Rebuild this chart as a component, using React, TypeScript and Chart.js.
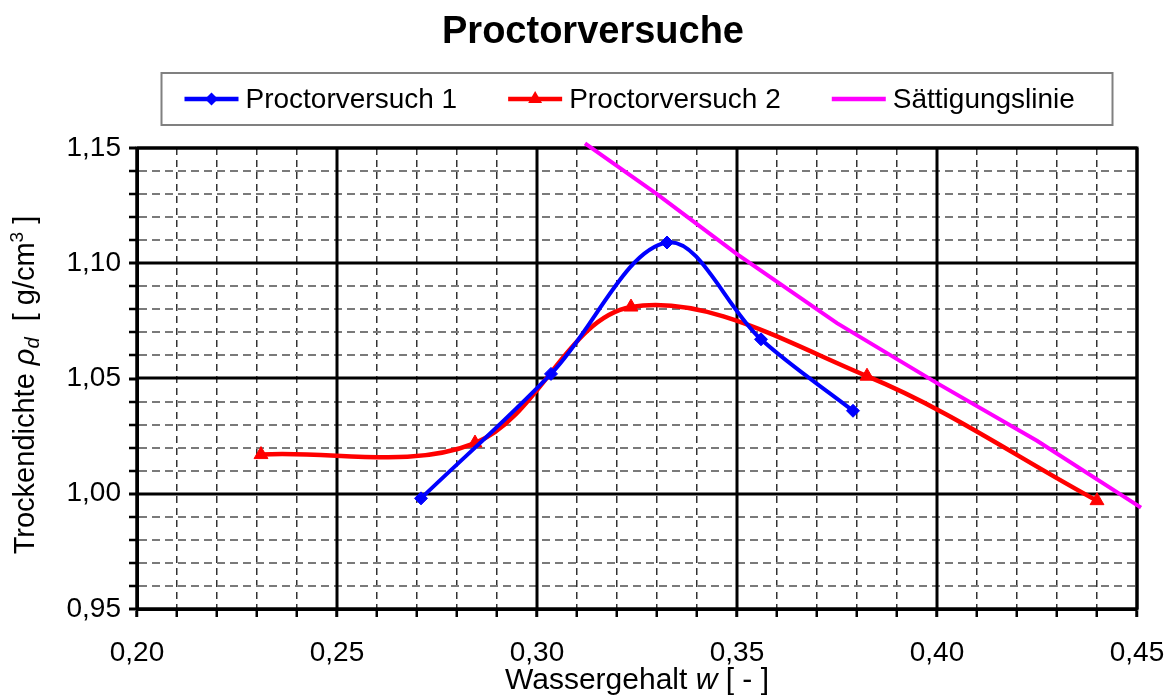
import React, { useEffect, useRef } from 'react';
import { Chart, registerables } from 'chart.js';
Chart.register(...registerables);

const chartTitle = 'Proctorversuche';
const series1Label = 'Proctorversuch 1';
const series1W = [0.271, 0.3035, 0.3325, 0.356, 0.379];
const series1Rho = [0.998, 1.052, 1.109, 1.067, 1.036];
const series2Label = 'Proctorversuch 2';
const series2W = [0.231, 0.2845, 0.3235, 0.3825, 0.44];
const series2Rho = [1.017, 1.022, 1.081, 1.051, 0.997];
const satLabel = 'Sättigungslinie';
const satW = [0.312, 0.33, 0.35, 0.375, 0.4, 0.425, 0.451];
const satRho = [1.152, 1.13, 1.104, 1.074, 1.048, 1.023, 0.994];
const xMajorTicks = [0.2, 0.25, 0.3, 0.35, 0.4, 0.45];
const yMajorTicks = [0.95, 1.0, 1.05, 1.1, 1.15];
const xTitleParts = [
  { text: 'Wassergehalt ', italic: false },
  { text: 'w', italic: true },
  { text: ' [ - ]', italic: false },
];

const FONT = '"Liberation Sans", Arial, sans-serif';
const W = 1171;
const H = 697;

const isMajor = (v: number, list: number[]) => list.some((t) => Math.abs(t - v) < 1e-6);
const fmt = (v: number) => v.toFixed(2).replace('.', ',');

const decoPlugin = {
  id: 'deco',
  beforeDatasetsDraw(chart: any) {
    const { ctx, chartArea: a, scales } = chart;
    ctx.save();
    ctx.strokeStyle = '#000';
    ctx.lineWidth = 3;
    ctx.setLineDash([]);
    ctx.beginPath();
    xMajorTicks.forEach((v) => {
      const px = Math.round(scales.x.getPixelForValue(v));
      ctx.moveTo(px, a.top);
      ctx.lineTo(px, a.bottom);
    });
    yMajorTicks.forEach((v) => {
      const py = Math.round(scales.y.getPixelForValue(v));
      ctx.moveTo(a.left, py);
      ctx.lineTo(a.right, py);
    });
    ctx.stroke();
    ctx.strokeRect(a.left, a.top, a.right - a.left, a.bottom - a.top);
    ctx.restore();
  },
  afterDraw(chart: any) {
    const { ctx, chartArea: a } = chart;
    const cx = (a.left + a.right) / 2;
    ctx.save();
    // title
    ctx.fillStyle = '#000';
    ctx.font = `bold 38px ${FONT}`;
    ctx.textAlign = 'center';
    ctx.textBaseline = 'alphabetic';
    ctx.fillText(chartTitle, 593, 43);

    // legend box
    const boxW = 951;
    const boxL = cx - boxW / 2;
    const boxT = 73;
    const boxH = 52;
    ctx.fillStyle = '#fff';
    ctx.fillRect(boxL, boxT, boxW, boxH);
    ctx.strokeStyle = '#808080';
    ctx.lineWidth = 2;
    ctx.strokeRect(boxL, boxT, boxW, boxH);
    const midY = boxT + boxH / 2;
    let x = boxL + 23;
    ctx.font = `28px ${FONT}`;
    ctx.textAlign = 'left';
    ctx.textBaseline = 'middle';
    chart.data.datasets.forEach((ds: any) => {
      ctx.strokeStyle = ds.borderColor;
      ctx.lineWidth = 4.5;
      ctx.beginPath();
      ctx.moveTo(x, midY);
      ctx.lineTo(x + 54, midY);
      ctx.stroke();
      if (ds.pointRadius > 0) {
        ctx.fillStyle = ds.borderColor;
        const mx = x + 27;
        const r = ds.pointStyle === 'triangle' ? 8 : 6.5;
        ctx.beginPath();
        if (ds.pointStyle === 'triangle') {
          ctx.moveTo(mx, midY - r);
          ctx.lineTo(mx + r * 0.87, midY + r * 0.5);
          ctx.lineTo(mx - r * 0.87, midY + r * 0.5);
        } else {
          ctx.moveTo(mx, midY - r);
          ctx.lineTo(mx + r, midY);
          ctx.lineTo(mx, midY + r);
          ctx.lineTo(mx - r, midY);
        }
        ctx.closePath();
        ctx.fill();
      }
      ctx.fillStyle = '#000';
      ctx.fillText(ds.label, x + 61, midY + 1);
      x += 61 + ctx.measureText(ds.label).width + 51;
    });

    // x axis title
    ctx.textBaseline = 'alphabetic';
    const partFont = (p: { italic: boolean }) => `${p.italic ? 'italic ' : ''}30px ${FONT}`;
    let total = 0;
    xTitleParts.forEach((p) => {
      ctx.font = partFont(p);
      total += ctx.measureText(p.text).width;
    });
    let tx = cx - total / 2;
    ctx.textAlign = 'left';
    xTitleParts.forEach((p) => {
      ctx.font = partFont(p);
      ctx.fillText(p.text, tx, 689);
      tx += ctx.measureText(p.text).width;
    });

    // y axis title (rotated)
    const yParts = [
      { text: 'Trockendichte ', font: `29px ${FONT}`, dy: 0 },
      { text: 'ρ', font: `italic 29px ${FONT}`, dy: 0 },
      { text: 'd', font: `italic 20px ${FONT}`, dy: 5 },
      { text: '  [ g/cm', font: `29px ${FONT}`, dy: 0 },
      { text: '3', font: `19px ${FONT}`, dy: -11 },
      { text: ' ]', font: `29px ${FONT}`, dy: 0 },
    ];
    let ytotal = 0;
    yParts.forEach((p) => {
      ctx.font = p.font;
      ytotal += ctx.measureText(p.text).width;
    });
    ctx.translate(34, 385);
    ctx.rotate(-Math.PI / 2);
    let ty = -ytotal / 2;
    yParts.forEach((p) => {
      ctx.font = p.font;
      ctx.fillText(p.text, ty, p.dy);
      ty += ctx.measureText(p.text).width;
    });
    ctx.restore();
  },
};

export default function App() {
  const ref = useRef<HTMLCanvasElement | null>(null);
  useEffect(() => {
    document.body.style.margin = '0';
    const canvas = ref.current;
    if (!canvas) return;
    const toPts = (xs: number[], ys: number[]) => xs.map((x, i) => ({ x, y: ys[i] }));
    const chart = new Chart(canvas, {
      type: 'scatter',
      data: {
        datasets: [
          {
            label: series1Label,
            data: toPts(series1W, series1Rho),
            showLine: true,
            borderColor: '#0000ff',
            backgroundColor: '#0000ff',
            borderWidth: 4,
            tension: 0.35,
            pointStyle: 'rectRot',
            pointRadius: 6.5,
            pointBorderWidth: 1,
          },
          {
            label: series2Label,
            data: toPts(series2W, series2Rho),
            showLine: true,
            borderColor: '#ff0000',
            backgroundColor: '#ff0000',
            borderWidth: 4.5,
            tension: 0.35,
            pointStyle: 'triangle',
            pointRadius: 8,
            pointBorderWidth: 1,
          },
          {
            label: satLabel,
            data: toPts(satW, satRho),
            showLine: true,
            borderColor: '#ff00ff',
            backgroundColor: '#ff00ff',
            borderWidth: 4,
            tension: 0,
            pointRadius: 0,
            clip: false,
          } as any,
        ],
      },
      options: {
        responsive: false,
        animation: false,
        devicePixelRatio: 1,
        layout: { padding: { top: 148, right: 34, bottom: 0, left: 0 } },
        plugins: { legend: { display: false }, title: { display: false }, tooltip: { enabled: false } },
        scales: {
          x: {
            type: 'linear',
            min: 0.2,
            max: 0.45,
            afterFit: (s: any) => { s.height = 88; s.paddingLeft = 0; s.paddingRight = 0; },
            ticks: {
              stepSize: 0.01,
              autoSkip: false,
              maxRotation: 0,
              padding: 19,
              color: '#000',
              font: { family: FONT, size: 28 },
              callback: (v: any) => (isMajor(Number(v), xMajorTicks) ? fmt(Number(v)) : ''),
            },
            grid: {
              color: (c: any) => (isMajor(c.tick.value, xMajorTicks) ? 'rgba(0,0,0,0)' : '#333'),
              lineWidth: 1.5,
              tickLength: 8,
              tickColor: '#000',
              tickWidth: (c: any) => (isMajor(c.tick.value, xMajorTicks) ? 3 : 2.5),
              tickBorderDash: [],
            },
            border: { display: true, color: '#000', width: 3, dash: [7, 5] },
          },
          y: {
            type: 'linear',
            min: 0.95,
            max: 1.15,
            afterFit: (s: any) => { s.width = 137; s.paddingTop = 0; s.paddingBottom = 0; },
            ticks: {
              stepSize: 0.01,
              autoSkip: false,
              padding: 8,
              color: '#000',
              font: { family: FONT, size: 28 },
              callback: (v: any) => (isMajor(Number(v), yMajorTicks) ? fmt(Number(v)) : ''),
            },
            grid: {
              color: (c: any) => (isMajor(c.tick.value, yMajorTicks) ? 'rgba(0,0,0,0)' : '#7a7a7a'),
              lineWidth: 2,
              tickLength: 8,
              tickColor: '#000',
              tickWidth: (c: any) => (isMajor(c.tick.value, yMajorTicks) ? 3 : 2.5),
              tickBorderDash: [],
            },
            border: { display: true, color: '#000', width: 3, dash: [8, 5] },
          },
        },
      },
      plugins: [decoPlugin],
    });
    return () => chart.destroy();
  }, []);
  return (
    <div style={{ width: W, height: H, background: '#fff' }}>
      <canvas ref={ref} width={W} height={H} style={{ display: 'block', width: W, height: H }} />
    </div>
  );
}
